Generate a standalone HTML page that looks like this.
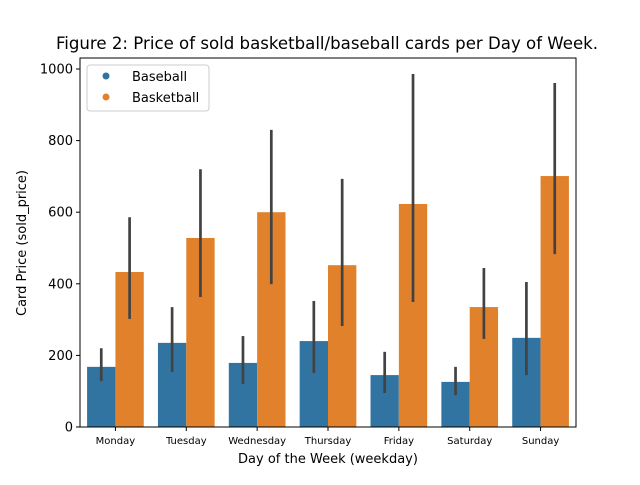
<!DOCTYPE html>
<html><head><meta charset="utf-8"><style>
body{margin:0;background:#fff;font-family:"Liberation Sans","DejaVu Sans",sans-serif}
</style></head><body>
<svg id="chart" width="640" height="480" xmlns="http://www.w3.org/2000/svg" font-family="DejaVu Sans, Liberation Sans, sans-serif">
<rect width="640" height="480" fill="#fff"/>
<text x="327" y="49" text-anchor="middle" font-size="16.6">Figure 2: Price of sold basketball/baseball cards per Day of Week.</text>
<g id="marks"></g>
<rect x="80" y="58" width="496" height="369" fill="none" stroke="#000" stroke-width="1"/>
<text transform="translate(26,243) rotate(-90)" text-anchor="middle" font-size="13">Card Price (sold_price)</text>
<text x="328" y="463" text-anchor="middle" font-size="13">Day of the Week (weekday)</text>
<g>
<rect x="87" y="65" width="122" height="46" rx="3" fill="#fff" fill-opacity="0.8" stroke="#ccc"/>
<circle cx="106" cy="76" r="3.5" fill="#3274a1"/>
<text x="132" y="81" font-size="13">Baseball</text>
<circle cx="106" cy="97" r="3.5" fill="#e1812c"/>
<text x="132" y="102" font-size="13">Basketball</text>
</g>
</svg>
<script>
const categories=["Monday","Tuesday","Wednesday","Thursday","Friday","Saturday","Sunday"];
const baseball=[168,235,179,240,145,126,249];
const baseballLo=[128,154,120,151,95,89,145];
const baseballHi=[220,335,254,352,210,168,405];
const basketball=[433,528,600,452,623,335,701];
const basketballLo=[302,363,399,282,349,246,483];
const basketballHi=[586,720,830,693,986,444,961];
const yTicks=[0,200,400,600,800,1000];
const L=80,R=576,T=58,B=427;
const y=v=>B-v*0.358;
const bw=(R-L)/categories.length;
const x=i=>L+bw*(i+0.5);
const ns="http://www.w3.org/2000/svg";
const g=document.getElementById('marks');
function mk(t,a){const e=document.createElementNS(ns,t);for(const k in a)e.setAttribute(k,a[k]);g.appendChild(e);return e;}
const series=[[baseball,baseballLo,baseballHi,"#3274a1","baseball"],[basketball,basketballLo,basketballHi,"#e1812c","basketball"]];
categories.forEach((c,i)=>{
 series.forEach((s,j)=>{
  const x0=x(i)-bw*0.4+j*bw*0.4;
  const r=mk('rect',{x:x0,y:y(s[0][i]),width:bw*0.4,height:B-y(s[0][i]),fill:s[3]});
  
  
  const l=mk('line',{x1:x0+bw*0.2,x2:x0+bw*0.2,y1:y(s[1][i]),y2:y(s[2][i]),stroke:'#424242','stroke-width':2.7});
  
  
 });
 const tk=mk('line',{x1:x(i),x2:x(i),y1:B,y2:B+4,stroke:'#000'});
 
 
 const t=mk('text',{x:x(i),y:B+17,'text-anchor':'middle','font-size':10});
 t.textContent=c;
 
 
});
yTicks.forEach(v=>{
 const tk=mk('line',{x1:L-4,x2:L,y1:y(v),y2:y(v),stroke:'#000'});
 
 
 const t=mk('text',{x:L-7,y:y(v)+4.5,'text-anchor':'end','font-size':13});
 t.textContent=v;
 
 
});
</script>
</body></html>
